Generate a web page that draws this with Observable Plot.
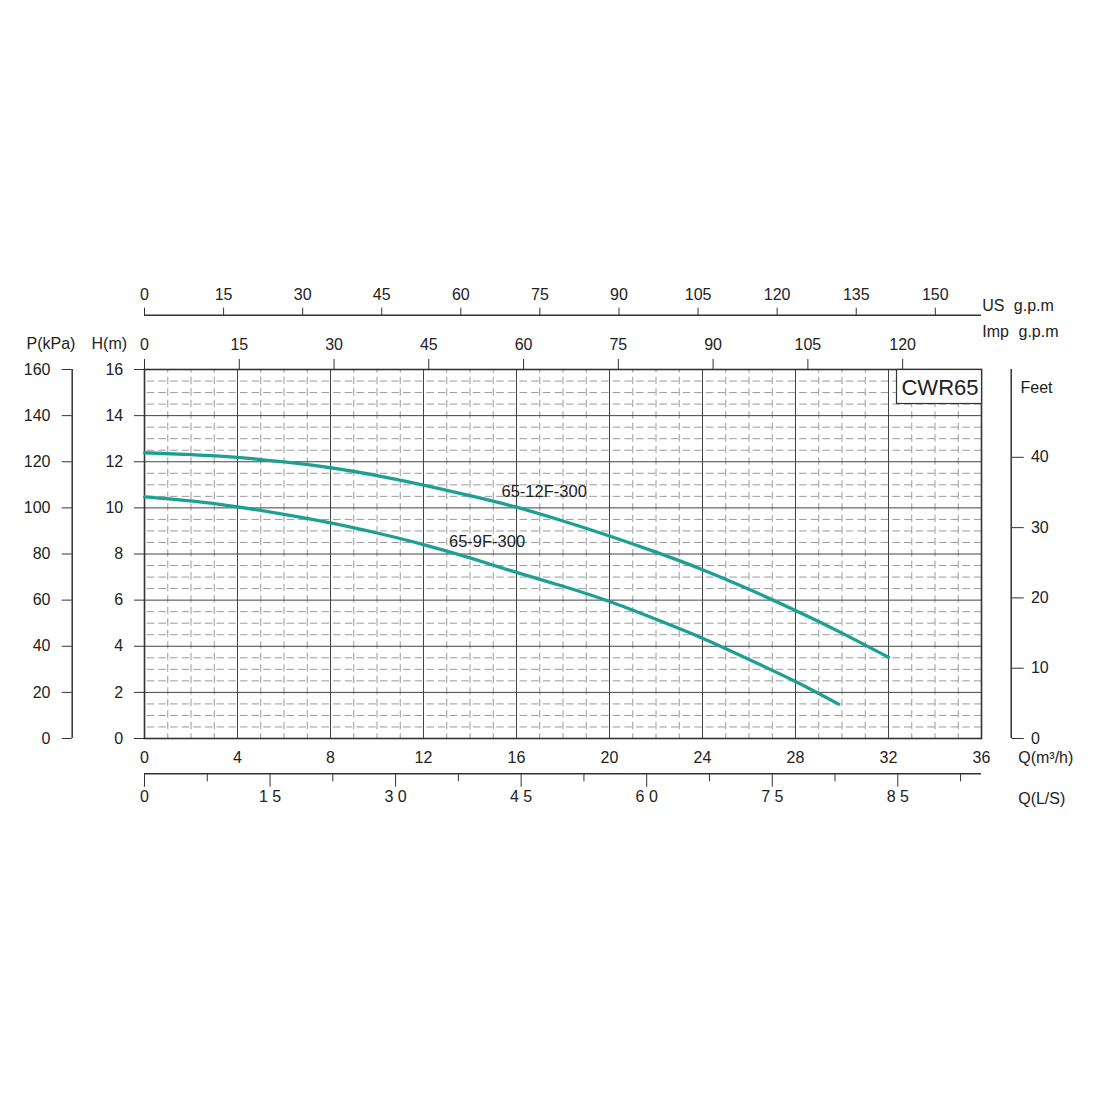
<!DOCTYPE html>
<html>
<head>
<meta charset="utf-8">
<script src="https://cdn.jsdelivr.net/npm/d3@7"></script>
<script src="https://cdn.jsdelivr.net/npm/@observablehq/plot@0.6"></script>
<style>
  html, body { margin: 0; padding: 0; background: #fff; }
</style>
</head>
<body>
<div id="chart"></div>
<script>
// ---- data ----
const q12 = [0, 2, 4, 6, 8, 10, 12, 14, 16, 18, 20, 22, 24, 26, 28, 30, 32];
const h12 = [12.39, 12.31, 12.19, 11.99, 11.74, 11.40, 10.99, 10.53, 10.03, 9.43, 8.78, 8.08, 7.32, 6.47, 5.55, 4.57, 3.52];
const q9 = [0, 2, 4, 6, 8, 10, 12, 14, 16, 18, 20, 22, 24, 26, 28, 29.85];
const h9 = [10.48, 10.30, 10.04, 9.72, 9.35, 8.91, 8.41, 7.83, 7.20, 6.60, 5.94, 5.17, 4.35, 3.43, 2.47, 1.49];
const seriesNames = ["65-12F-300", "65-9F-300"];
const modelName = "CWR65";

const qTicks = [0, 4, 8, 12, 16, 20, 24, 28, 32, 36];          // Q (m³/h)
const hTicks = [0, 2, 4, 6, 8, 10, 12, 14, 16];                // H (m)
const pTicks = [0, 20, 40, 60, 80, 100, 120, 140, 160];        // P (kPa)
const feetTicks = [0, 10, 20, 30, 40];                         // Feet
const usGpmTicks = [0, 15, 30, 45, 60, 75, 90, 105, 120, 135, 150];
const impGpmTicks = [0, 15, 30, 45, 60, 75, 90, 105, 120];
const lsMajorTicks = [0, 1.5, 3, 4.5, 6, 7.5, 9];
const lsMajorLabels = ["0", "1 5", "3 0", "4 5", "6 0", "7 5", "8 5"];
const lsMinorTicks = [0.75, 2.25, 3.75, 5.25, 6.75, 8.25, 9.75];

// unit conversions to the chart's m³/h and m scales
const US_PER_M3H = 4.41, IMP_PER_M3H = 3.68, M3H_PER_LS = 3.6, KPA_PER_M = 10, FT_PER_M = 3.281;

// ---- derived tables ----
const curves = [
  ...q12.map((q, i) => ({series: seriesNames[0], q, h: h12[i]})),
  ...q9.map((q, i) => ({series: seriesNames[1], q, h: h9[i]}))
];
const minorH = d3.range(0.5, 16, 0.5).filter(d => d % 2 !== 0);
const minorV = d3.range(1, 36, 1).filter(d => d % 4 !== 0);
const usPos = usGpmTicks.map(d => d / US_PER_M3H);
const impPos = impGpmTicks.map(d => d / IMP_PER_M3H);
const lsMajorPos = lsMajorTicks.map(d => d * M3H_PER_LS);
const lsLabelMap = new Map(lsMajorPos.map((p, i) => [p, lsMajorLabels[i]]));
const lsMinorPos = lsMinorTicks.map(d => d * M3H_PER_LS);
const pPos = pTicks.map(d => d / KPA_PER_M);
const feetPos = feetTicks.map(d => d / FT_PER_M);

const teal = "#1ca092";
const ink = "#222";
const axisInk = "#333";
const fs = 16;

const chart = Plot.plot({
  width: 1100,
  height: 1100,
  marginLeft: 144,
  marginRight: 119,
  marginTop: 369,
  marginBottom: 362,
  x: {domain: [0, 36], label: null},
  y: {domain: [0, 16], label: null},
  style: {fontFamily: "'Liberation Sans', Arial, Helvetica, sans-serif", fontSize: fs + "px", color: ink, background: "#fff"},
  marks: [
    // minor dashed grid
    Plot.ruleY(minorH, {stroke: "#8e8e8e", strokeWidth: 0.9, strokeDasharray: "7.5,4.15", strokeDashoffset: 8.9}),
    Plot.ruleX(minorV, {stroke: "#8e8e8e", strokeWidth: 0.9, strokeDasharray: "7.5,4", strokeDashoffset: 3.8}),
    // major grid
    Plot.ruleY(hTicks, {stroke: "#444", strokeWidth: 1}),
    Plot.ruleX(qTicks, {stroke: "#444", strokeWidth: 1}),
    Plot.frame({stroke: axisInk, strokeWidth: 1.6}),

    // model name box
    Plot.frame({fill: "#fff", stroke: axisInk, strokeWidth: 1.2, insetLeft: 752, insetBottom: 335}),
    Plot.text([modelName], {frameAnchor: "top-right", textAnchor: "end", lineAnchor: "bottom", dx: -3, dy: 25.5, fontSize: 22, fill: ink}),

    // pump curves
    Plot.line(curves, {x: "q", y: "h", z: "series", curve: "natural", stroke: teal, strokeWidth: 3.3}),
    Plot.text(curves, {filter: d => d.series === seriesNames[0] && d.q === 16, x: "q", y: "h", text: "series",
      textAnchor: "start", lineAnchor: "bottom", dx: -15, dy: -10, fontSize: 16.5, fill: ink}),
    Plot.text(curves, {filter: d => d.series === seriesNames[1] && d.q === 14, x: "q", y: "h", text: "series",
      textAnchor: "start", lineAnchor: "bottom", dx: -21, dy: -11, fontSize: 16.5, fill: ink}),

    // bottom Q (m³/h) labels
    Plot.axisX(qTicks, {anchor: "bottom", label: null, tickSize: 0, tickPadding: 13, fontSize: fs, fill: ink}),
    // bottom Q (L/S) axis
    Plot.ruleY([0], {dy: 35.3, stroke: axisInk, strokeWidth: 1.5}),
    Plot.axisX(lsMajorPos, {anchor: "bottom", label: null, tickSize: 13.4, tickPadding: 3.5, dy: 35.3, stroke: axisInk,
      tickFormat: d => lsLabelMap.get(d), fontSize: fs, fill: ink}),
    Plot.axisX(lsMinorPos, {anchor: "bottom", label: null, tickSize: 8, dy: 35.3, stroke: axisInk, tickFormat: () => ""}),

    // top Imp g.p.m axis (on the frame)
    Plot.axisX(impPos, {anchor: "top", label: null, tickSize: 11, tickPadding: 9, stroke: axisInk,
      tickFormat: d => String(Math.round(d * IMP_PER_M3H)), fontSize: fs, fill: ink}),
    // top US g.p.m axis
    Plot.ruleY([16], {dy: -54.3, stroke: axisInk, strokeWidth: 1.5}),
    Plot.axisX(usPos, {anchor: "top", label: null, tickSize: 8, tickPadding: 7.5, dy: -54.3, stroke: axisInk,
      tickFormat: d => String(Math.round(d * US_PER_M3H)), fontSize: fs, fill: ink}),

    // left H (m) axis
    Plot.axisY(hTicks, {anchor: "left", label: null, tickSize: 10, tickPadding: 11.3, stroke: axisInk, fontSize: fs, fill: ink}),
    // left P (kPa) axis
    Plot.ruleX([0], {dx: -72.3, stroke: axisInk, strokeWidth: 1.5}),
    Plot.axisY(pPos, {anchor: "left", label: null, tickSize: 10, tickPadding: 11.7, dx: -72.3, stroke: axisInk,
      tickFormat: d => String(Math.round(d * KPA_PER_M)), fontSize: fs, fill: ink}),
    // right Feet axis
    Plot.ruleX([36], {dx: 29.7, stroke: axisInk, strokeWidth: 1.5}),
    Plot.axisY(feetPos, {anchor: "right", label: null, tickSize: 12, tickPadding: 7.7, dx: 29.7, stroke: axisInk,
      tickFormat: d => String(Math.round(d * FT_PER_M)), fontSize: fs, fill: ink}),

    // axis titles
    Plot.text(["P(kPa)"], {frameAnchor: "top-left", textAnchor: "start", lineAnchor: "bottom", dx: -118, dy: -20.7, fontSize: fs, fill: ink}),
    Plot.text(["H(m)"], {frameAnchor: "top-left", textAnchor: "start", lineAnchor: "bottom", dx: -53, dy: -20.7, fontSize: fs, fill: ink}),
    Plot.text(["US"], {frameAnchor: "top-right", textAnchor: "start", lineAnchor: "bottom", dx: 0.7, dy: -59, fontSize: fs, fill: ink}),
    Plot.text(["g.p.m"], {frameAnchor: "top-right", textAnchor: "start", lineAnchor: "bottom", dx: 32.3, dy: -59, fontSize: fs, fill: ink}),
    Plot.text(["Imp"], {frameAnchor: "top-right", textAnchor: "start", lineAnchor: "bottom", dx: 0.7, dy: -32.3, fontSize: fs, fill: ink}),
    Plot.text(["g.p.m"], {frameAnchor: "top-right", textAnchor: "start", lineAnchor: "bottom", dx: 37, dy: -32.3, fontSize: fs, fill: ink}),
    Plot.text(["Feet"], {frameAnchor: "top-right", textAnchor: "start", lineAnchor: "bottom", dx: 39, dy: 23.7, fontSize: fs, fill: ink}),
    Plot.text(["Q(m³/h)"], {frameAnchor: "bottom-right", textAnchor: "start", lineAnchor: "bottom", dx: 36.7, dy: 24.7, fontSize: fs, fill: ink}),
    Plot.text(["Q(L/S)"], {frameAnchor: "bottom-right", textAnchor: "start", lineAnchor: "bottom", dx: 36.7, dy: 65.3, fontSize: fs, fill: ink})
  ]
});
document.getElementById("chart").appendChild(chart);
</script>
</body>
</html>
